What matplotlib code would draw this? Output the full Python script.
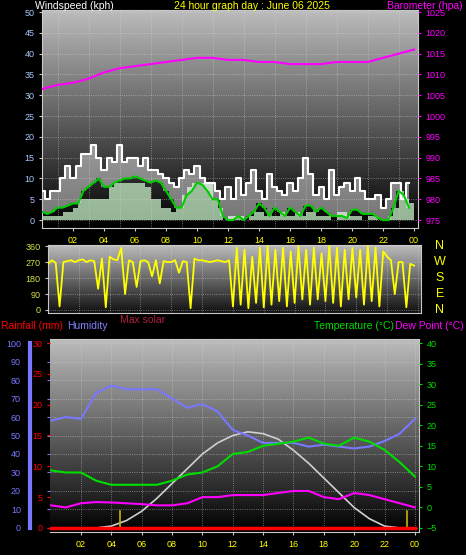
import numpy as np
import matplotlib
matplotlib.use("Agg")
import matplotlib.pyplot as plt
from matplotlib.colors import LinearSegmentedColormap

plt.rcParams['font.family'] = ['Liberation Sans', 'DejaVu Sans']

# ---------------- data ----------------
wind_gust = [7,5,7, 7,10,13, 10,13,16, 16,18,15, 12,15,14, 18,14,15, 15,13,15, 12,12,11,
             10,9,8, 10,12,11, 13,10,9, 9,7,5, 8,5,10, 6,9,12, 7,5,11, 8,7,6,
             9,7,10, 15,11,6, 8,5,12, 6,8,9, 7,10,7, 5,5,6, 3,5,9, 9,5,9]
wind_avg = [2,1.5,2, 3,3,3.5, 4,4,7, 8,9,10, 8,8,9, 9.5,10,10, 10.5,10,9.5, 9,9.5,9,
            7,5,3, 3,6,7, 9,8.5,7, 5,5,1, 0,0,1, 0,1,2, 4,3,1, 3,2,1,
            3,2,1, 3.5,3.5,2, 3,2,1, 1,1,0.5, 2.5,2.5,1.5, 1.5,1.5,0.5, 0,0,3, 7,6,3]
wind_speed = [1,1,1, 1,2,2, 3,5,5, 5,5,5, 5,8,9, 9,9,9, 9,9,8, 5,5,3,
              3,2,3, 6,8,9, 9,9,9, 5,3,0, 1,1,1, 0,1,2, 2,1,1, 1,2,1,
              1,2,1, 2,2,1, 1,1,0, 2,2,1, 1,1,0, 1,1,0, 0,1,3, 7,5,4]
pressure = [1006.5,1007.5,1008,1009,1010.5,1011.5,1012,1012.5,1013,1013.5,1014,1014,1013.5,
            1013.5,1013,1013,1012.5,1012.5,1012.5,1013,1013,1013,1014,1015,1016]
wind_dir = [260,280,265,20,270,275,280,270, 280,285,270,280,275,120,290,15,
            300,285,280,350,90,280,270,130, 275,280,270,190,280,150,275,270,
            270,280,210,275,270,10,290,280, 280,275,270,275,280,275,270,280,
            20,350,30,340,10,300,40,350, 15,360,30,340,50,350,20,330,
            40,360,60,340,30,350,60,320, 50,360,40,350,20,340,60,350,
            70,340,30,360,50,350,20,330, 300,280,90,270,270,15,260,250]
humidity = [58,60,59,73,77,75,75,75,70,65,67,63,53,50,46,46,46,44,45,44,43,44,47,51,59]
temperature = [9,8.5,8.5,6.5,5.5,5.5,5.5,5.5,6.5,8,8.5,10,13,13.5,15,15.5,16,17,15.5,15,17,16,14,11,7.5]
dewpoint = [0.5,0,1,1.3,1.2,1,0.8,0.5,0.5,1,2.5,2.5,3,3,3,3.5,4,4,2.5,2,3.5,3,2,1,0]
solar = [0,0,0,0,1,4,9,16,24,32,40,46,50,52,51,48,42,35,27,19,11,5,1,0,0]
rainfall = [0]*25
sun_events = [4.6, 23.5]
hour_labels = ["02","04","06","08","10","12","14","16","18","20","22","00"]

W, H = 466, 555
fig = plt.figure(figsize=(W/100, H/100), dpi=100, facecolor="black")

def box(l, t, r, b):
    return [l/W, 1-b/H, (r-l)/W, (b-t)/H]

def gradient(ax, top="#bcbcbc", bot="#000000"):
    g = np.linspace(1, 0, 256).reshape(-1, 1)
    cm = LinearSegmentedColormap.from_list("g", [bot, top])
    ax.imshow(g, aspect="auto", cmap=cm, extent=[0, 1, 0, 1], transform=ax.transAxes, zorder=0)

def style(ax):
    for s in ax.spines.values():
        s.set_color("#c8c8c8")
    ax.set_facecolor("black")
    ax.grid(True, color="#d8d8d8", linestyle=":", linewidth=0.6, alpha=0.6)
    ax.set_axisbelow(False)

hx = np.arange(25)
t20 = np.arange(72)/3
xt = np.arange(2, 25, 2)
TS = 6.5

# ---------------- top panel ----------------
ax1 = fig.add_axes(box(42, 10, 418, 228))
gradient(ax1)
style(ax1)
ax1.fill_between(np.append(t20, 24), np.append(wind_speed, wind_speed[-1]), 0, step="post", color="#c8f0c8", alpha=0.75, lw=0, zorder=2)
ax1.fill_between(t20, wind_avg, wind_gust, step="mid", color="white", alpha=0.45, lw=0, zorder=2)
ax1.step(t20, wind_gust, where="mid", color="white", lw=1.5, zorder=3)
ax1.plot(t20, wind_avg, color="#00cc00", lw=1.5, zorder=4)
ax1.set_xlim(0.07, 24.25)
ax1.set_ylim(-1.9, 50.5)
ax1.set_yticks(range(0, 51, 5))
ax1.set_xticks(xt)
ax1.set_xticklabels(hour_labels)
ax1.tick_params(axis="x", colors="#c8c8c8", labelcolor="yellow", labelsize=TS, length=2)
ax1.tick_params(axis="y", colors="#c8c8c8", labelcolor="#a8c8ff", labelsize=TS, length=2)
ax1.set_xticks(np.arange(0, 25, 1), minor=True)
ax1.tick_params(axis="x", which="minor", length=0)
ax1b = ax1.twinx()
ax1b.plot(hx, pressure, color="#ff00ff", lw=1.5)
ax1b.set_ylim(975 - 1.9, 975 + 50.5)
ax1b.set_yticks(range(975, 1026, 5))
ax1b.tick_params(axis="y", colors="#ff00ff", labelcolor="#ff00ff", labelsize=TS, length=2)
for s in ax1b.spines.values():
    s.set_visible(False)
ax1.grid(True, which="minor", axis="x", color="#d8d8d8", linestyle=":", linewidth=0.6, alpha=0.6)
ax1.grid(False, which="major", axis="x")

# ---------------- middle panel ----------------
ax2 = fig.add_axes(box(48, 245, 421, 313))
gradient(ax2, "#bcbcbc", "#101010")
style(ax2)
t15 = np.arange(96)/4
ax2.plot(t15, wind_dir, color="yellow", lw=1.3, zorder=3)
ax2.set_xlim(0, 24.2)
ax2.set_ylim(-17, 366)
ax2.set_yticks([0, 90, 180, 270, 360])
ax2.set_xticks(xt)
ax2.set_xticklabels([])
ax2.tick_params(axis="y", colors="#c8c8c8", labelcolor="#d8e040", labelsize=TS, length=2)
ax2.tick_params(axis="x", length=0)
for i, c in enumerate(["N", "W", "S", "E", "N"]):
    fig.text(440/W, 1-(246 + i*16)/H, c, color="yellow", fontsize=9, ha="center", va="center")

# ---------------- bottom panel ----------------
ax3 = fig.add_axes(box(50, 339, 419, 532))
gradient(ax3)
style(ax3)
ax3.set_xlim(-0.04, 24.27)
ax3.set_ylim(-2.2, 102.2)
ax3.plot(hx, solar, color="#d0d0d0", lw=1.2, zorder=3)
ax3.plot(hx, humidity, color="#7878ff", lw=1.5, zorder=4)
for s in sun_events:
    ax3.plot([s, s], [0, 9], color="#c8b400", lw=1.2, zorder=3)
ax3.set_xticks(xt)
ax3.set_xticklabels(hour_labels)
ax3.tick_params(axis="x", colors="#c8c8c8", labelcolor="yellow", labelsize=TS, length=2)
ax3.set_yticks(range(0, 101, 10))
ax3.tick_params(axis="y", colors="#7878ff", labelcolor="#7878ff", labelsize=TS, length=2, pad=19)
ax3.spines["left"].set_visible(False)
fig.add_artist(plt.Line2D([30/W, 30/W], [1-343/H, 1-528/H], color="#7878ff", lw=3))

ax3r = ax3.twinx()
ax3r.set_ylim(-2.2*0.3, 102.2*0.3)
ax3r.plot(hx, rainfall, color="red", lw=2.5, zorder=5)
ax3r.yaxis.set_ticks_position("left")
ax3r.set_yticks(range(0, 31, 5))
ax3r.tick_params(axis="y", colors="red", labelcolor="red", labelsize=TS, length=2)
for s in ax3r.spines.values():
    s.set_visible(False)

ax3t = ax3.twinx()
ax3t.set_ylim(-5 - 2.2*0.45, -5 + 102.2*0.45)
ax3t.plot(hx, temperature, color="#00dd00", lw=1.5)
ax3t.plot(hx, dewpoint, color="#ff00ff", lw=1.5)
ax3t.set_yticks(range(-5, 41, 5))
ax3t.tick_params(axis="y", colors="#00dd00", labelcolor="#00dd00", labelsize=TS, length=2)
for s in ax3t.spines.values():
    s.set_visible(False)

# ---------------- titles ----------------
FS = 7.5
fig.text(35/W, 1-6/H, "Windspeed (kph)", color="white", fontsize=FS, va="center")
fig.text(252/W, 1-6/H, "24 hour graph day : June 06 2025", color="yellow", fontsize=FS, va="center", ha="center")
fig.text(463/W, 1-6/H, "Barometer (hpa)", color="#ff00ff", fontsize=FS, va="center", ha="right")
fig.text(1/W, 1-326/H, "Rainfall (mm)", color="red", fontsize=FS, va="center")
fig.text(67/W, 1-326/H, "Humidity", color="#8080ff", fontsize=FS, va="center")
fig.text(120/W, 1-320/H, "Max solar", color="#b0203c", fontsize=FS, va="center")
fig.text(394/W, 1-326/H, "Temperature (°C)", color="#00dd00", fontsize=FS, va="center", ha="right")
fig.text(464/W, 1-326/H, "Dew Point (°C)", color="#ff00ff", fontsize=FS, va="center", ha="right")

fig.savefig("out.png", dpi=100, facecolor="black")
